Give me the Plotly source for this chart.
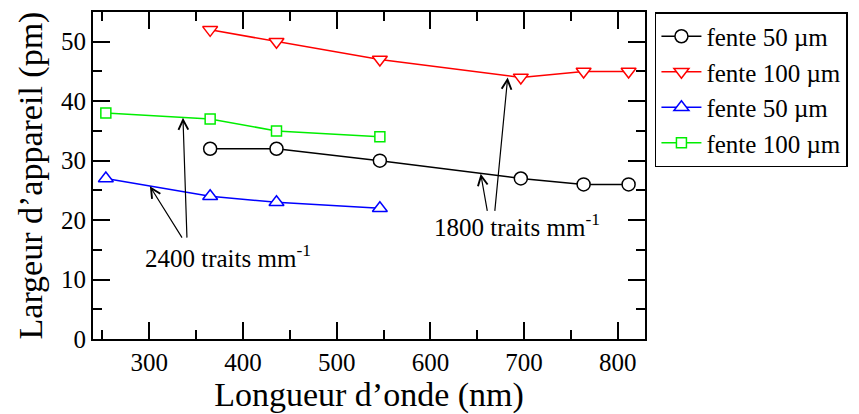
import plotly.graph_objects as go

# ---- data ----
wl_1800 = [365.0, 435.8, 546.1, 696.5, 763.5, 811.5]
larg_50_1800 = [32, 32, 30, 27, 26, 26]
larg_100_1800 = [52, 50, 47, 44, 45, 45]
wl_2400 = [253.7, 365.0, 435.8, 546.1]
larg_50_2400 = [27, 24, 23, 22]
larg_100_2400 = [38, 37, 35, 34]

series_names = ["fente 50 µm", "fente 100 µm", "fente 50 µm", "fente 100 µm"]
series_colors = ["black", "red", "blue", "#00ee00"]
series_symbols = ["circle", "triangle-down", "triangle-up", "square"]
series_sizes = [13, 13, 13, 10]

# annotation text and arrows (head x, head y, tail x, tail y)
label_texts = ["2400 traits mm<sup>-1</sup>", "1800 traits mm<sup>-1</sup>"]
label_pos = [(384.0, 14.0), (692.5, 19.2)]
arrows = [
    (300.7, 25.7, 336.0, 16.8),
    (336.0, 37.2, 340.3, 16.8),
    (653.7, 27.8, 661.0, 21.3),
    (682.5, 44.0, 668.6, 21.3),
]

FONT = "Liberation Serif, Times New Roman, serif"

fig = go.Figure()
xs = [wl_1800, wl_1800, wl_2400, wl_2400]
ys = [larg_50_1800, larg_100_1800, larg_50_2400, larg_100_2400]
for x, y, n, c, s, sz in zip(xs, ys, series_names, series_colors, series_symbols, series_sizes):
    fig.add_trace(go.Scatter(
        x=x, y=y, name=n, mode="lines+markers",
        line=dict(color=c, width=1.5),
        marker=dict(symbol=s, size=sz, color="white", line=dict(color=c, width=1.5)),
    ))

for (hx, hy, tx, ty) in arrows:
    fig.add_annotation(
        x=hx, y=hy, ax=tx, ay=ty, xref="x", yref="y", axref="x", ayref="y",
        text="", showarrow=True, arrowhead=5, arrowsize=1.6, arrowwidth=1.2,
        arrowcolor="black", standoff=0, startstandoff=0,
    )
for t, (px, py) in zip(label_texts, label_pos):
    fig.add_annotation(
        x=px, y=py, xref="x", yref="y", text=t, showarrow=False,
        font=dict(family=FONT, size=25, color="black"),
    )

axis_common = dict(
    showline=True, linecolor="black", linewidth=2, mirror="ticks",
    ticks="inside", ticklen=17, tickwidth=2, tickcolor="black",
    showgrid=False, zeroline=False,
    tickfont=dict(family=FONT, size=25, color="black"),
)

fig.update_xaxes(
    range=[240, 829], tick0=300, dtick=100,
    minor=dict(ticks="inside", ticklen=9, tickwidth=2, tickcolor="black", dtick=50, tick0=250, showgrid=False),
    title=dict(text="Longueur d’onde (nm)", font=dict(family=FONT, size=34, color="black"), standoff=4),
    **axis_common,
)
fig.update_yaxes(
    range=[0, 55], tick0=0, dtick=10,
    minor=dict(ticks="inside", ticklen=9, tickwidth=2, tickcolor="black", dtick=5, tick0=0, showgrid=False),
    title=dict(text="Largeur d’appareil (pm)", font=dict(family=FONT, size=34, color="black"), standoff=8),
    **axis_common,
)

fig.update_layout(
    width=859, height=414,
    margin=dict(l=93, r=214, t=10, b=74),
    paper_bgcolor="white", plot_bgcolor="white",
    font=dict(family=FONT, color="black"),
    legend=dict(
        x=1.018, y=1.0, xanchor="left", yanchor="top",
        bordercolor="black", borderwidth=1.5, bgcolor="white",
        font=dict(family=FONT, size=25, color="black"),
        tracegroupgap=0, itemwidth=40,
    ),
    showlegend=True,
)

fig.write_html("out.html")
